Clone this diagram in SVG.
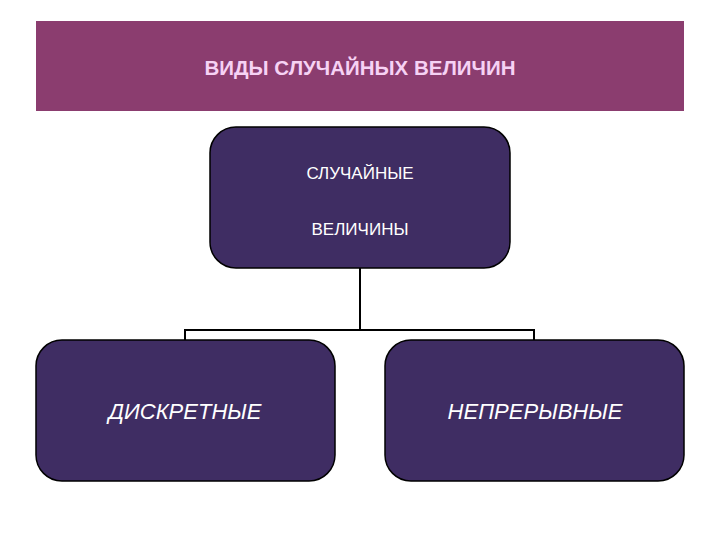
<svg xmlns="http://www.w3.org/2000/svg" width="720" height="540" viewBox="0 0 720 540">
<style>
.node{fill:#3F2D63;stroke:#000;stroke-width:1.5}
.t{font-family:"Liberation Sans",Arial,sans-serif;fill:#fff;text-anchor:middle}
.c{fill:none;stroke:#000;stroke-width:2}
</style>
<rect width="720" height="540" fill="#fff"/>
<g id="header">
<rect x="36" y="21" width="648" height="90" fill="#8B3D6F"/>
<text class="t" x="360" y="75" font-size="20.5" font-weight="bold" style="fill:#F6D2F4">ВИДЫ СЛУЧАЙНЫХ ВЕЛИЧИН</text>
</g>
<g id="connectors">
<path class="c" d="M360 268V330M185 340V330H534V340"/>
</g>
<g id="root">
<rect class="node" x="210" y="127" width="300" height="141" rx="26"/>
<text class="t" x="360" y="179" font-size="17">СЛУЧАЙНЫЕ</text>
<text class="t" x="360" y="235" font-size="17">ВЕЛИЧИНЫ</text>
</g>
<g id="discrete">
<rect class="node" x="36" y="340" width="299" height="141" rx="26"/>
<text class="t" x="185" y="419" font-size="22" font-style="italic">ДИСКРЕТНЫЕ</text>
</g>
<g id="continuous">
<rect class="node" x="385" y="340" width="299" height="141" rx="26"/>
<text class="t" x="535" y="419" font-size="22" font-style="italic">НЕПРЕРЫВНЫЕ</text>
</g>
</svg>
